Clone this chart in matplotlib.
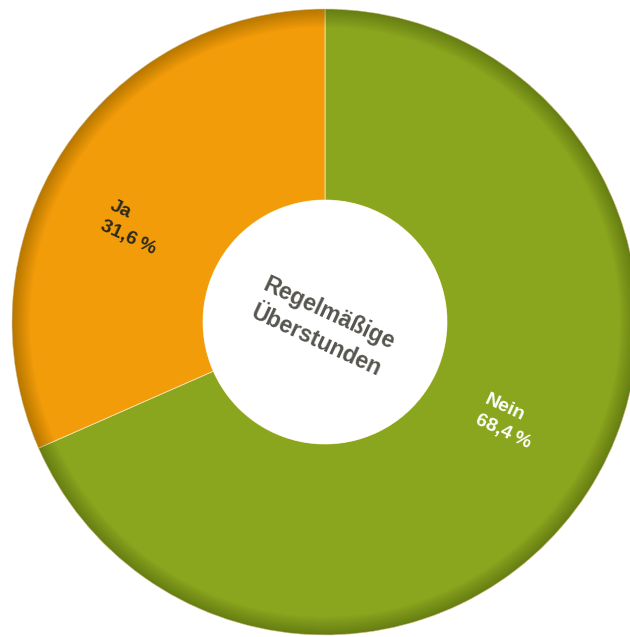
import numpy as np
import matplotlib.pyplot as plt
from matplotlib.patches import Wedge, Circle

# data
labels = ['Nein', 'Ja']
values = [68.4, 31.6]
colors = ['#8aa61e', '#f29c0a']
label_colors = ['white', '#2b2a1c']
center_text = 'Regelmäßige\nÜberstunden'

fig = plt.figure(figsize=(6.30, 6.37), dpi=100)
ax = fig.add_axes([0, 0, 1, 1])
ax.set_xlim(0, 630)
ax.set_ylim(0, 637)
ax.set_aspect('equal')
ax.axis('off')

cx, cy = 325, 315
r_out, r_in = 313, 122

# wedges, clockwise from the top
start = 90.0
for v, c in zip(values, colors):
    sweep = v / sum(values) * 360
    ax.add_patch(Wedge((cx, cy), r_out, start - sweep, start, width=r_out - r_in,
                       facecolor=c, edgecolor='#f3e3b0', linewidth=0.6))
    start -= sweep

# darker rim shading
n = 12
for i in range(n):
    r = r_out - i * 1.5
    ax.add_patch(Wedge((cx, cy), r_out, 0, 360, width=r_out - r + 1.5,
                       facecolor='black', edgecolor='none', alpha=0.02))

ax.add_patch(Circle((cx, cy), r_in, facecolor='white', edgecolor='none'))

font = 'Liberation Sans'
rot = -25
ax.text(cx - 2, cy - 5, center_text, ha='center', va='center', rotation=rot,
        fontsize=16.5, fontweight='bold', color='#55544f', family=font,
        linespacing=1.4, rotation_mode='anchor')

# segment labels
label_pos = [(481, 228), (106, 422)]
for (x, y), lab, v, tc in zip(label_pos, labels, values, label_colors):
    txt = '%s\n%s\u2009%%' % (lab, ('%.1f' % v).replace('.', ','))
    ax.text(x, y, txt, ha='left', va='center', rotation=rot, fontsize=14,
            fontweight='bold', color=tc, family=font, linespacing=1.35,
            rotation_mode='anchor', multialignment='left')

fig.savefig('out.png', dpi=100)
